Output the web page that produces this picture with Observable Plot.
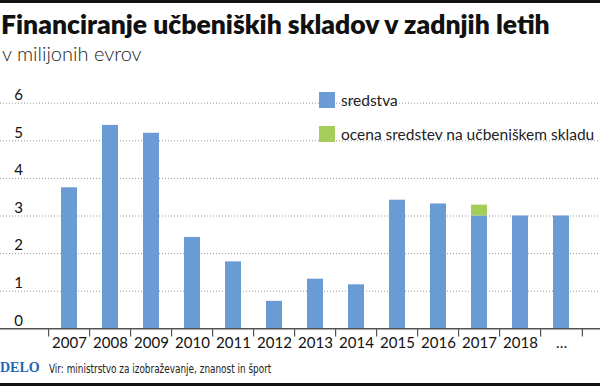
<!DOCTYPE html>
<html>
<head>
<meta charset="utf-8">
<script src="https://cdn.jsdelivr.net/npm/d3@7"></script>
<script src="https://cdn.jsdelivr.net/npm/@observablehq/plot@0.6"></script>
<style>
  html, body { margin: 0; padding: 0; background: #fff; }
  #wrap { position: relative; width: 600px; height: 386px; overflow: hidden; background: #fff; font-family: Lato, "Open Sans", sans-serif; color: #111; }
  .bar { position: absolute; left: 0; width: 600px; background: #111; }
  #title { position: absolute; left: 1px; top: 11px; font-size: 26.5px; line-height: 26.5px; font-weight: 800; white-space: nowrap; }
  #subtitle { position: absolute; left: 2px; top: 43px; font-size: 20px; line-height: 20px; font-weight: 300; color: #222; white-space: nowrap; }
  #chart { position: absolute; left: 0; top: 80px; }
  #legend { position: absolute; left: 319px; top: 92px; font-size: 15.5px; color: #222; }
  .row { display: flex; align-items: center; height: 16px; margin-bottom: 18px; white-space: nowrap; }
  .sw { width: 16px; height: 16px; margin-right: 6px; flex: none; }
  #delo { position: absolute; left: 0; top: 360px; font-family: "Liberation Serif", "DejaVu Serif", serif; font-weight: 700; font-size: 14px; line-height: 16px; color: #1f66b3; }
  #source { position: absolute; left: 49px; top: 362px; font-family: "Liberation Sans Narrow", "DejaVu Sans Condensed", "Liberation Sans", sans-serif; font-size: 11.5px; line-height: 14px; color: #222; white-space: nowrap; transform: scaleX(0.86); transform-origin: 0 0; }
</style>
</head>
<body>
<div id="wrap">
  <div class="bar" style="top:0;height:3px"></div>
  <div id="title">Financiranje učbeniških skladov v zadnjih letih</div>
  <div id="subtitle">v milijonih evrov</div>
  <div id="chart"></div>
  <div id="legend"></div>
  <div id="delo">DELO</div>
  <div id="source">Vir: ministrstvo za izobraževanje, znanost in šport</div>
  <div class="bar" style="top:383px;height:3px"></div>
</div>
<script>
const years = ["2007","2008","2009","2010","2011","2012","2013","2014","2015","2016","2017","2018","…"];
const sredstva = [3.75, 5.41, 5.2, 2.43, 1.78, 0.73, 1.32, 1.17, 3.42, 3.32, 3.0, 3.0, 3.0];
const ocena =    [0, 0, 0, 0, 0, 0, 0, 0, 0, 0, 0.29, 0, 0];
const seriesNames = ["sredstva", "ocena sredstev na učbeniškem skladu"];
const seriesColors = ["#6a9bd5", "#a4cd5a"];
const yTicks = [0, 1, 2, 3, 4, 5, 6];

const table = [];
years.forEach((yr, i) => {
  table.push({year: yr, series: seriesNames[0], value: sredstva[i]});
  table.push({year: yr, series: seriesNames[1], value: ocena[i]});
});

const W = 600, H = 280;
const x0 = 42.8, x1 = 586.2;
const step = (x1 - x0) / years.length;

const chart = Plot.plot({
  width: W,
  height: H,
  marginLeft: 0,
  marginRight: 0,
  marginTop: 22.7,
  marginBottom: 31.7,
  style: {fontFamily: "Lato, 'Open Sans', sans-serif", background: "#fff"},
  x: {domain: years, range: [x0, x1], paddingInner: 0.62, paddingOuter: 0.31, axis: null},
  y: {domain: [0, 6], axis: null},
  color: {domain: seriesNames, range: seriesColors},
  marks: [
    Plot.ruleY(yTicks.filter(d => d > 0), {y: d => d, stroke: "#999", strokeWidth: 1, strokeDasharray: "1,2"}),
    Plot.barY(table, {x: "year", y: "value", fill: "series"}),
    Plot.ruleY([0], {stroke: "#555", strokeWidth: 1.5}),
    Plot.ruleX(years, {x: d => d, dx: -step / 2, y1: 0, y2: -0.22, stroke: "#555", strokeWidth: 1.2}),
    Plot.ruleX(years.slice(-1), {x: d => d, dx: step / 2, y1: 0, y2: -0.22, stroke: "#555", strokeWidth: 1.2}),
    Plot.text(yTicks, {y: d => d, text: d => String(d), frameAnchor: "left", dx: 18, dy: -8, textAnchor: "middle", fontSize: 15, fill: "#111"}),
    Plot.text(years, {x: d => d, text: d => d, frameAnchor: "bottom", dy: 19, textAnchor: "middle", fontSize: 15, fill: "#111"})
  ]
});
document.getElementById("chart").appendChild(chart);

const legend = document.getElementById("legend");
seriesNames.forEach((name, i) => {
  const row = document.createElement("div");
  row.className = "row";
  const sw = document.createElement("span");
  sw.className = "sw";
  sw.style.background = seriesColors[i];
  const t = document.createElement("span");
  t.textContent = name;
  row.appendChild(sw);
  row.appendChild(t);
  legend.appendChild(row);
});
</script>
</body>
</html>
